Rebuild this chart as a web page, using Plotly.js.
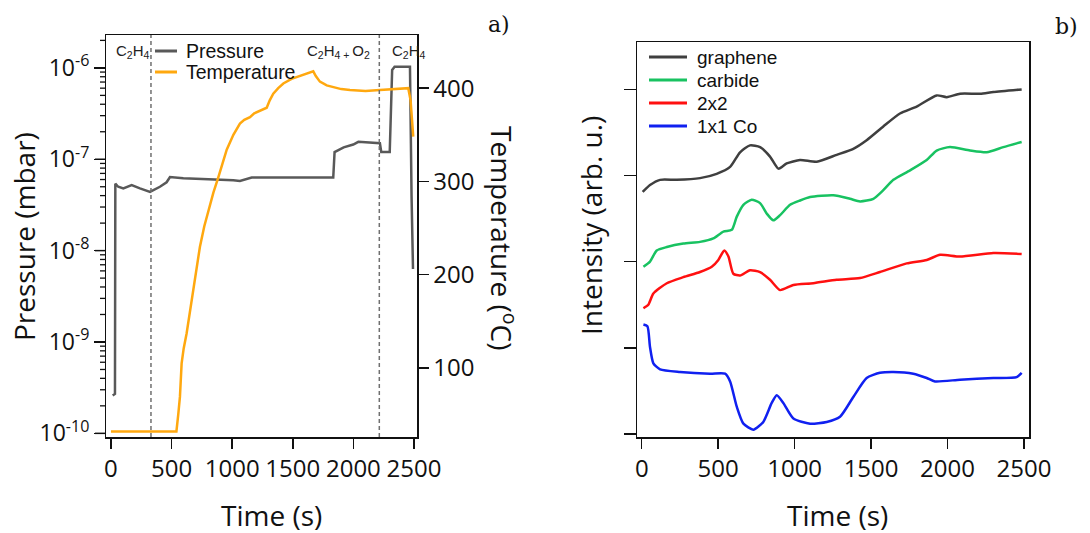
<!DOCTYPE html>
<html>
<head>
<meta charset="utf-8">
<script src="https://cdn.plot.ly/plotly-3.0.1.min.js"></script>
<style>html,body{margin:0;padding:0;background:#fff;}#chart{width:1090px;height:533px;}</style>
</head>
<body>
<div id="chart"></div>
<script>
// ---------- Panel a) data ----------
const tempTime = [0, 100, 200, 300, 400, 500, 540, 555, 569, 583, 600, 624, 666, 700, 734, 770, 803, 845, 885, 920, 955, 1010, 1064, 1100, 1147, 1182, 1240, 1285, 1310, 1339, 1380, 1422, 1490, 1559, 1620, 1669, 1690, 1724, 1780, 1834, 1900, 1972, 2100, 2219, 2350, 2453, 2472, 2494];
const tempValues = [32, 32, 32, 32, 32, 32, 32, 50, 69, 105, 121, 137, 173, 203, 230, 252, 269, 288, 304, 320, 334, 350, 362, 366, 369, 373, 376, 379, 387, 394, 400, 405, 410, 413, 416, 418, 413, 407, 403, 401, 399, 398, 397, 398, 399, 400, 387, 348];

const presTime = [14, 33, 36, 60, 102, 140, 171, 239, 322, 404, 459, 487, 597, 1009, 1064, 1161, 1834, 1845, 1920, 1999, 2041, 2219, 2230, 2300, 2320, 2340, 2467, 2480, 2492];
const presValues = [2.6e-10, 2.7e-10, 5.4e-8, 5.0e-8, 4.8e-8, 5.0e-8, 5.2e-8, 4.8e-8, 4.4e-8, 5.0e-8, 5.6e-8, 6.4e-8, 6.2e-8, 5.9e-8, 5.8e-8, 6.3e-8, 6.3e-8, 1.2e-7, 1.35e-7, 1.45e-7, 1.55e-7, 1.5e-7, 1.2e-7, 1.2e-7, 9.5e-7, 1.03e-6, 1.03e-6, 4e-8, 6.3e-9];

const gasSwitchTimes = [330, 2214];
const gasLabels = ['C<sub>2</sub>H<sub>4</sub>', 'C<sub>2</sub>H<sub>4 + </sub>O<sub>2</sub>', 'C<sub>2</sub>H<sub>4</sub>'];

const timeTicks = [0, 500, 1000, 1500, 2000, 2500];
const presDecades = [-10, -9, -8, -7, -6];
const presTickText = ['10<sup>-10</sup>', '10<sup>-9</sup>', '10<sup>-8</sup>', '10<sup>-7</sup>', '10<sup>-6</sup>'];
const presMinorDigits = [2, 3, 4, 5, 6, 7, 8, 9];
const tempTicks = [100, 200, 300, 400];

// ---------- Panel b) data ----------
const grapheneTime = [6, 54, 120, 229, 381, 490, 578, 643, 708, 774, 839, 894, 948, 1035, 1145, 1275, 1384, 1471, 1580, 1689, 1798, 1929, 1995, 2082, 2213, 2300, 2485];
const grapheneValues = [2.81, 2.89, 2.95, 2.95, 2.97, 3.02, 3.10, 3.27, 3.35, 3.33, 3.22, 3.08, 3.14, 3.18, 3.16, 3.24, 3.31, 3.41, 3.57, 3.72, 3.80, 3.93, 3.91, 3.95, 3.95, 3.97, 4.00];

const carbideTime = [11, 54, 98, 164, 272, 381, 468, 534, 589, 621, 665, 719, 774, 817, 861, 905, 970, 1035, 1101, 1253, 1362, 1428, 1515, 1580, 1646, 1755, 1864, 1929, 2016, 2147, 2256, 2365, 2485];
const carbideValues = [1.94, 2.00, 2.13, 2.17, 2.21, 2.23, 2.27, 2.35, 2.37, 2.52, 2.66, 2.72, 2.68, 2.56, 2.48, 2.54, 2.66, 2.71, 2.75, 2.77, 2.73, 2.70, 2.73, 2.83, 2.95, 3.06, 3.18, 3.29, 3.33, 3.29, 3.27, 3.33, 3.39];

const twoByTwoTime = [11, 43, 76, 164, 272, 381, 458, 501, 540, 567, 599, 643, 708, 774, 839, 905, 992, 1122, 1275, 1428, 1558, 1733, 1864, 1951, 2082, 2300, 2485];
const twoByTwoValues = [1.46, 1.50, 1.63, 1.75, 1.82, 1.88, 1.94, 2.02, 2.13, 2.06, 1.86, 1.84, 1.90, 1.88, 1.79, 1.67, 1.73, 1.75, 1.79, 1.81, 1.88, 1.98, 2.02, 2.08, 2.06, 2.10, 2.09];

const coTime = [11, 37, 54, 76, 120, 250, 447, 545, 578, 621, 665, 730, 795, 850, 883, 926, 992, 1101, 1210, 1297, 1384, 1471, 1558, 1646, 1776, 1864, 1918, 2082, 2300, 2452, 2485];
const coValues = [1.27, 1.25, 1.01, 0.82, 0.75, 0.72, 0.70, 0.70, 0.61, 0.32, 0.12, 0.05, 0.14, 0.36, 0.45, 0.36, 0.18, 0.12, 0.14, 0.20, 0.43, 0.65, 0.71, 0.72, 0.70, 0.65, 0.61, 0.63, 0.65, 0.66, 0.71];

const intensityTicks = [0, 1, 2, 3, 4];

const leftNames = ['Pressure', 'Temperature'];
const leftColors = ['#595959', '#FFA80F'];
const rightNames = ['graphene', 'carbide', '2x2', '1x1 Co'];
const rightColors = ['#3f3f3f', '#18C261', '#FF1010', '#1020F0'];

// ---------- geometry helpers (page px -> paper) ----------
const W = 1090, H = 533;
const px = v => v / W;
const py = v => 1 - v / H;

const presRange = [-10.04, -5.64];
const leftDomainY = [1 - 437 / H, 1 - 35 / H];
// paper position of a value on the log pressure axis (for its tick marks)
const presToPaper = v => leftDomainY[0] + (Math.log10(v) - presRange[0]) / (presRange[1] - presRange[0]) * (leftDomainY[1] - leftDomainY[0]);

const tickFont = {family: 'Open Sans, Noto Sans, sans-serif', size: 24, color: '#111'};

const traces = [
  {x: presTime, y: presValues, xaxis: 'x', yaxis: 'y', mode: 'lines', line: {color: leftColors[0], width: 2.5}, name: leftNames[0], showlegend: false},
  {x: tempTime, y: tempValues, xaxis: 'x', yaxis: 'y2', mode: 'lines', line: {color: leftColors[1], width: 2.5}, name: leftNames[1], showlegend: false},
  {x: grapheneTime, y: grapheneValues, xaxis: 'x2', yaxis: 'y3', mode: 'lines', line: {color: rightColors[0], width: 2.5, shape: 'spline', smoothing: 0.6}, name: rightNames[0], showlegend: false},
  {x: carbideTime, y: carbideValues, xaxis: 'x2', yaxis: 'y3', mode: 'lines', line: {color: rightColors[1], width: 2.5, shape: 'spline', smoothing: 0.6}, name: rightNames[1], showlegend: false},
  {x: twoByTwoTime, y: twoByTwoValues, xaxis: 'x2', yaxis: 'y3', mode: 'lines', line: {color: rightColors[2], width: 2.5, shape: 'spline', smoothing: 0.6}, name: rightNames[2], showlegend: false},
  {x: coTime, y: coValues, xaxis: 'x2', yaxis: 'y3', mode: 'lines', line: {color: rightColors[3], width: 2.5, shape: 'spline', smoothing: 0.6}, name: rightNames[3], showlegend: false},
  {x: [null], y: [null], xaxis: 'x', yaxis: 'y4', mode: 'lines', hoverinfo: 'skip', showlegend: false}
];

const axisCommon = {showgrid: false, zeroline: false, showline: true, linecolor: '#111', linewidth: 1.5, ticks: 'outside', tickcolor: '#111', tickwidth: 1.5, tickfont: tickFont};

const shapes = [];
gasSwitchTimes.forEach(t => shapes.push({type: 'line', xref: 'x', yref: 'y domain', x0: t, x1: t, y0: 0, y1: 1, line: {color: '#707070', width: 1.5, dash: '4px,3px'}}));

// decade / sub-decade tick marks of the log pressure axis
const leftAxisX = 106;
presDecades.forEach(d => {
  const yMaj = presToPaper(Math.pow(10, d));
  shapes.push({type: 'line', xref: 'paper', yref: 'paper', x0: px(leftAxisX - 11), x1: px(leftAxisX), y0: yMaj, y1: yMaj, line: {color: '#111', width: 1.5}});
  presMinorDigits.forEach(k => {
    const v = k * Math.pow(10, d);
    if (Math.log10(v) < presRange[1]) {
      const yMin = presToPaper(v);
      shapes.push({type: 'line', xref: 'paper', yref: 'paper', x0: px(leftAxisX - 6), x1: px(leftAxisX), y0: yMin, y1: yMin, line: {color: '#111', width: 1.3}});
    }
  });
});

const annotations = [];
const gasLabelX = [133, 338, 409];
gasLabels.forEach((txt, i) => annotations.push({xref: 'paper', yref: 'paper', x: px(gasLabelX[i]), y: py(51), text: txt, showarrow: false, xanchor: 'center', yanchor: 'middle', font: {family: 'Liberation Sans, Arial, sans-serif', size: 15, color: '#222'}}));

const leftLegendY = [51, 72];
leftNames.forEach((n, i) => {
  shapes.push({type: 'line', xref: 'paper', yref: 'paper', x0: px(155), x1: px(177), y0: py(leftLegendY[i]), y1: py(leftLegendY[i]), line: {color: leftColors[i], width: 3}});
  annotations.push({xref: 'paper', yref: 'paper', x: px(184), y: py(leftLegendY[i]), text: n, showarrow: false, xanchor: 'left', yanchor: 'middle', font: {family: 'Liberation Sans, Arial, sans-serif', size: 19.5, color: '#111'}});
});
const rightLegendY = [57, 80, 103, 126];
rightNames.forEach((n, i) => {
  shapes.push({type: 'line', xref: 'paper', yref: 'paper', x0: px(649), x1: px(687), y0: py(rightLegendY[i]), y1: py(rightLegendY[i]), line: {color: rightColors[i], width: 3}});
  annotations.push({xref: 'paper', yref: 'paper', x: px(695), y: py(rightLegendY[i]), text: n, showarrow: false, xanchor: 'left', yanchor: 'middle', font: {family: 'Liberation Sans, Arial, sans-serif', size: 19, color: '#111'}});
});

const titleFont = {family: 'Open Sans, Noto Sans, sans-serif', size: 28, color: '#111'};
annotations.push({xref: 'paper', yref: 'paper', x: px(271), y: py(515), text: 'Time (s)', showarrow: false, xanchor: 'center', yanchor: 'middle', font: titleFont});
annotations.push({xref: 'paper', yref: 'paper', x: px(837), y: py(515), text: 'Time (s)', showarrow: false, xanchor: 'center', yanchor: 'middle', font: titleFont});
annotations.push({xref: 'paper', yref: 'paper', x: px(24), y: py(237), text: 'Pressure (mbar)', textangle: -90, showarrow: false, xanchor: 'center', yanchor: 'middle', font: titleFont});
annotations.push({xref: 'paper', yref: 'paper', x: px(503), y: py(238), text: 'Temperature (<sup>o</sup>C)', textangle: 90, showarrow: false, xanchor: 'center', yanchor: 'middle', font: titleFont});
annotations.push({xref: 'paper', yref: 'paper', x: px(591), y: py(225), text: 'Intensity (arb. u.)', textangle: -90, showarrow: false, xanchor: 'center', yanchor: 'middle', font: titleFont});
const panelFont = {family: 'DejaVu Serif, Liberation Serif, serif', size: 22, color: '#111'};
annotations.push({xref: 'paper', yref: 'paper', x: px(499), y: py(25), text: 'a)', showarrow: false, xanchor: 'center', yanchor: 'middle', font: panelFont});
annotations.push({xref: 'paper', yref: 'paper', x: px(1066), y: py(27), text: 'b)', showarrow: false, xanchor: 'center', yanchor: 'middle', font: panelFont});

const layout = {
  width: W, height: H,
  margin: {l: 0, r: 0, t: 0, b: 0},
  paper_bgcolor: '#fff', plot_bgcolor: 'rgba(0,0,0,0)',
  showlegend: false,
  xaxis: Object.assign({}, axisCommon, {domain: [px(106), px(417)], range: [-41, 2525], anchor: 'y', mirror: true, tickvals: timeTicks, ticklen: 10}),
  yaxis: Object.assign({}, axisCommon, {domain: leftDomainY, type: 'log', range: presRange, anchor: 'x', ticks: '', showticklabels: false}),
  yaxis4: {overlaying: 'y', side: 'left', anchor: 'x', type: 'linear', range: presRange, tickvals: presDecades, ticktext: presTickText,
    ticks: 'outside', ticklen: 11, tickwidth: 1.5, tickcolor: '#111', showline: false, showgrid: false, zeroline: false,
    tickfont: {family: 'Open Sans, Noto Sans, sans-serif', size: 23, color: '#111'}},
  yaxis2: Object.assign({}, axisCommon, {overlaying: 'y', side: 'right', anchor: 'x', range: [26, 457], tickvals: tempTicks, ticklen: 10}),
  xaxis2: Object.assign({}, axisCommon, {domain: [px(637), px(1029)], range: [-31, 2533], anchor: 'y3', mirror: true, tickvals: timeTicks, ticklen: 10}),
  yaxis3: Object.assign({}, axisCommon, {domain: [1 - 437 / H, 1 - 42 / H], range: [-0.035, 4.55], anchor: 'x2', mirror: true, tickvals: intensityTicks, showticklabels: false, ticklen: 12}),
  shapes: shapes,
  annotations: annotations
};

Plotly.newPlot('chart', traces, layout, {staticPlot: true, displayModeBar: false});
</script>
</body>
</html>
